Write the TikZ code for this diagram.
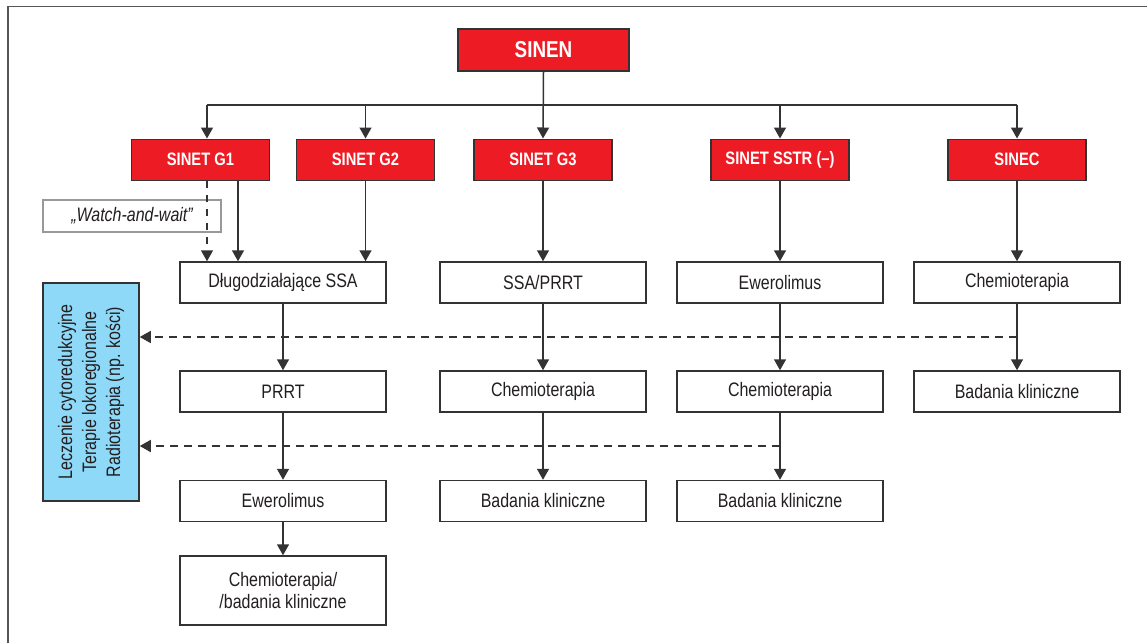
\documentclass[tikz,border=0pt]{standalone}
\usepackage{fontspec}
\setmainfont{Liberation Sans}[FakeStretch=0.82]
\usetikzlibrary{arrows.meta}
\definecolor{nred}{HTML}{ED1C24}
\definecolor{nblue}{HTML}{8ED8F8}
\definecolor{ntext}{HTML}{231F20}
\definecolor{nline}{HTML}{333333}
\definecolor{nframe}{HTML}{555555}
\begin{document}
\begin{tikzpicture}[x=1pt,y=-1pt,
  box/.style={draw=nline,line width=1.5pt,fill=white,minimum width=206pt,minimum height=41pt,inner sep=0pt,text=ntext,font=\fontsize{19.5}{22}\selectfont,align=center},
  redbox/.style={draw=nline,line width=1.5pt,fill=nred,minimum width=138pt,minimum height=41pt,inner sep=0pt,text=white,font=\bfseries\fontsize{18}{20}\selectfont},
  arr/.style={draw=nline,line width=1.5pt,-{Triangle[width=12pt,length=11pt]}},
  conn/.style={draw=nline,line width=1.5pt},
  dasharr/.style={draw=nline,line width=1.5pt,dash pattern=on 8pt off 6pt,-{Triangle[width=12pt,length=11pt]}}
]
\useasboundingbox (0,0) rectangle (1147,643);
% frame
\draw[nframe,line width=1.8pt] (8,643) -- (8,6.5) -- (1147,6.5);

% top
\node[redbox,minimum width=171pt,minimum height=42pt,font=\bfseries\fontsize{23}{25}\selectfont] (sinen) at (543.5,50) {SINEN};

% red row
\node[redbox] (g1) at (200.5,159.75) {SINET G1};
\node[redbox] (g2) at (365.5,159.75) {SINET G2};
\node[redbox] (g3) at (543,159.75) {SINET G3};
\node[redbox] (sstr) at (780,159.75) {SINET SSTR (–)};
\node[redbox] (sinec) at (1017,159.75) {SINEC};

% watch and wait
\node[draw=gray!80,line width=1.2pt,fill=white,minimum width=178pt,minimum height=32pt,inner sep=0pt,text=ntext,font=\itshape\fontsize{19.5}{22}\selectfont] (watch) at (132,216) {„Watch-and-wait”};

% row 2
\node[box] (dl) at (283,282.5) {Długodziałające SSA};
\node[box] (ssaprrt) at (543,282.5) {SSA/PRRT};
\node[box] (ewe1) at (780,282.5) {Ewerolimus};
\node[box] (chemo4) at (1017,282.5) {Chemioterapia};

% row 3
\node[box] (prrt) at (283,391.5) {PRRT};
\node[box] (chemo2) at (543,391.5) {Chemioterapia};
\node[box] (chemo3) at (780,391.5) {Chemioterapia};
\node[box] (bad4) at (1017,391.5) {Badania kliniczne};

% row 4
\node[box] (ewe2) at (283,501) {Ewerolimus};
\node[box] (bad2) at (543,501) {Badania kliniczne};
\node[box] (bad3) at (780,501) {Badania kliniczne};

% row 5
\node[box,minimum height=69pt] (chemo1) at (283,590.5) {Chemioterapia/\\/badania kliniczne};

% blue box
\node[draw=nline,line width=1.5pt,fill=nblue,rotate=90,minimum width=218pt,minimum height=96pt,inner sep=0pt,text=ntext,align=center,font=\fontsize{19.5}{24}\selectfont] (blue) at (91,392) {Leczenie cytoredukcyjne\\Terapie lokoregionalne\\Radioterapia (np. kości)};

% bus
\coordinate (busL) at (207,105);
\coordinate (busR) at (1017,105);
\draw[conn] (busL) -- (busR);
\draw[arr] (sinen.south) -- (g3.north);
\draw[arr] (busL) -- (busL |- g1.north);
\draw[arr] (busL -| g2.north) -- (g2.north);
\draw[arr] (busL -| sstr.north) -- (sstr.north);
\draw[arr] (busR) -- (sinec.north);

% G1/G2 to row 2
\coordinate (g1d) at (207,180);
\coordinate (g1s) at (238,180);
\draw[draw=nline,line width=1.5pt,dash pattern=on 7pt off 7pt,-{Triangle[width=12pt,length=11pt]}] (g1d |- g1.south) -- (g1d |- dl.north);
\draw[arr] (g1s |- g1.south) -- (g1s |- dl.north);
\draw[arr] (g2.south) -- (g2.south |- dl.north);
\draw[arr] (g3.south) -- (ssaprrt.north);
\draw[arr] (sstr.south) -- (ewe1.north);
\draw[arr] (sinec.south) -- (chemo4.north);

% columns
\draw[arr] (dl.south) -- (prrt.north);
\draw[arr] (prrt.south) -- (ewe2.north);
\draw[arr] (ewe2.south) -- (chemo1.north);
\draw[arr] (ssaprrt.south) -- (chemo2.north);
\draw[arr] (chemo2.south) -- (bad2.north);
\draw[arr] (ewe1.south) -- (chemo3.north);
\draw[arr] (chemo3.south) -- (bad3.north);
\draw[arr] (chemo4.south) -- (bad4.north);

% dashed feedback lines
\coordinate (d1) at (1017,337);
\coordinate (d2) at (780,446);
\draw[dasharr] (d1) -- (d1 -| blue.south);
\draw[dasharr] (d2) -- (d2 -| blue.south);
\end{tikzpicture}
\end{document}
